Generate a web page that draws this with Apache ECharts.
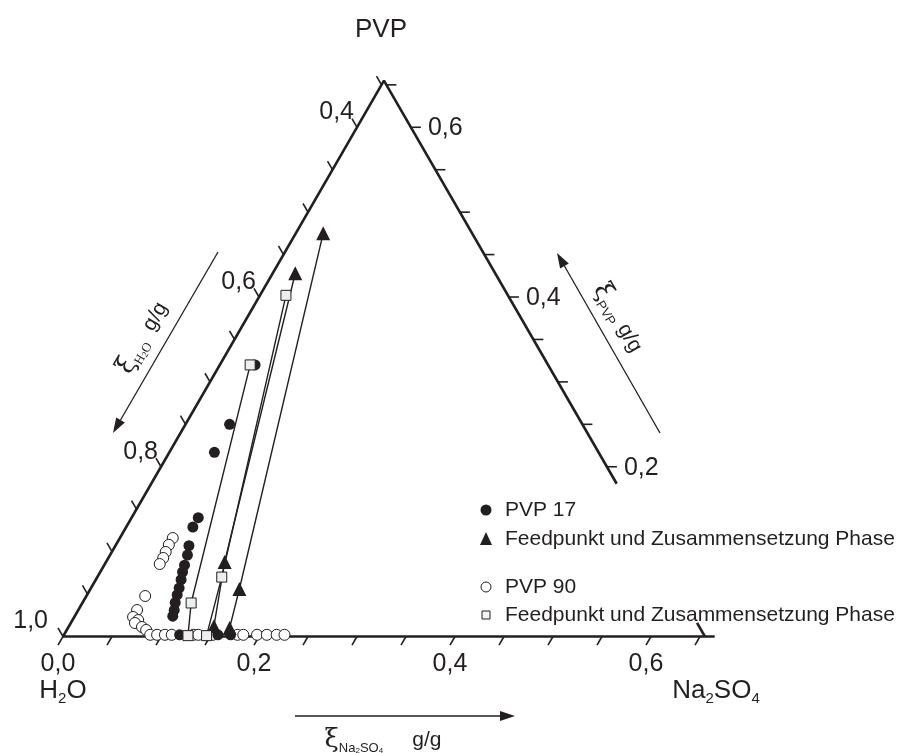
<!DOCTYPE html>
<html><head><meta charset="utf-8">
<script src="https://cdn.jsdelivr.net/npm/echarts@6/dist/echarts.min.js"></script>
<style>html,body{margin:0;padding:0;background:#fff}#c{width:903px;height:753px}</style>
</head><body><div id="c"></div>
<script>
// Compositions as [Na2SO4 mass fraction, PVP mass fraction]; H2O = 1 - both
const pvp17Points = [
  [0.045,0.250],[0.046,0.217],[0.068,0.140],[0.068,0.129],[0.075,0.107],[0.079,0.096],
  [0.082,0.084],[0.084,0.076],[0.087,0.067],[0.090,0.057],[0.092,0.049],[0.0945,0.040],
  [0.098,0.031],[0.100,0.024],[0.036,0.320],
  [0.118,0.002],[0.157,0.002],[0.170,0.002]
];
const pvp90Points = [
  [0.054,0.116],[0.054,0.108],[0.055,0.0996],[0.056,0.0925],[0.056,0.0854],[0.060,0.0477],
  [0.060,0.0312],[0.060,0.023],[0.067,0.0194],[0.0655,0.0159],[0.075,0.0112],[0.081,0.0077],
  [0.088,0.002],[0.095,0.002],[0.103,0.002],[0.110,0.002],[0.132,0.002],[0.137,0.002],
  [0.152,0.002],[0.177,0.002],[0.183,0.002],[0.197,0.002],[0.207,0.002],[0.217,0.002],[0.225,0.002]
];
// tie lines: bottom phase, feed point, top phase
const tieSquareA = [[0.127,0.001],[0.111,0.0395],[0.031,0.320]];
const tieSquareB = [[0.146,0.001],[0.127,0.070],[0.0265,0.402]];
const tieTriangleA = [[0.148,0.012],[0.121,0.0878],[0.023,0.428]];
const tieTriangleB = [[0.165,0.010],[0.152,0.056],[0.028,0.475]];
// diagram frame
const frameMain = [[0.665,0],[0,0],[0,0.655],[0.475,0.18]];
const frameStub = [[0.639,0.016],[0.655,0]];
const RIGHT_EDGE_H2O = 0.345;
// axis ticks and labels
const naTicks = [0,0.05,0.10,0.15,0.20,0.25,0.30,0.35,0.40,0.45,0.50,0.55,0.60,0.65];
const naTickLabels = [0,0.2,0.4,0.6];
const h2oTicks = [1.0,0.95,0.90,0.85,0.80,0.75,0.70,0.65,0.60,0.55,0.50,0.45,0.40,0.35];
const h2oTickLabels = [1.0,0.8,0.6,0.4];
const pvpTicks = [0.20,0.25,0.30,0.35,0.40,0.45,0.50,0.55,0.60,0.65];
const pvpTickLabels = [0.2,0.4,0.6];

const INK = '#231f20';
const S3 = Math.sqrt(3) / 2;
function tern(p) { return [p[0] + p[1] / 2, p[1] * S3]; }
function fmt(v) { return v.toFixed(1).replace('.', ','); }

const chart = echarts.init(document.getElementById('c'), null, {renderer: 'canvas'});

function tickSeries(points, dx, dy) {
  return {
    type: 'custom', coordinateSystem: 'cartesian2d', silent: true, clip: false, z: 3,
    data: points.map(tern),
    renderItem: function (params, api) {
      const p = api.coord([api.value(0), api.value(1)]);
      return {type: 'line', shape: {x1: p[0], y1: p[1], x2: p[0] + dx * 10, y2: p[1] + dy * 10},
        style: {stroke: INK, lineWidth: 1.6}};
    }
  };
}
function labelSeries(points, texts, place) {
  return {
    type: 'custom', coordinateSystem: 'cartesian2d', silent: true, clip: false, z: 3,
    data: points.map(tern),
    renderItem: function (params, api) {
      const p = api.coord([api.value(0), api.value(1)]);
      const o = place(p, params.dataIndex);
      return {type: 'text', x: o.x, y: o.y,
        style: {text: texts[params.dataIndex], fontSize: 25, fontFamily: 'Liberation Sans, Arial, sans-serif',
          fill: INK, align: o.align, verticalAlign: 'middle'}};
    }
  };
}
function lineSeries(points, width) {
  return {type: 'line', data: points.map(tern), symbol: 'none', clip: false, silent: true, z: 4,
    lineStyle: {color: INK, width: width, opacity: 1}, animation: false};
}

const series = [
  lineSeries(frameMain, 2.6),
  lineSeries(frameStub, 2.6),
  lineSeries(tieSquareA, 1.4),
  lineSeries(tieSquareB, 1.4),
  lineSeries(tieTriangleA, 1.4),
  lineSeries(tieTriangleB, 1.4),
  {type: 'scatter', name: 'PVP 90', data: pvp90Points.map(tern), symbol: 'circle', symbolSize: 11, clip: false, z: 5,
    itemStyle: {color: '#ffffff', borderColor: INK, borderWidth: 1, opacity: 1}},
  {type: 'scatter', name: 'PVP 17', data: pvp17Points.map(tern), symbol: 'circle', symbolSize: 11, clip: false, z: 6,
    itemStyle: {color: INK, opacity: 1}},
  {type: 'scatter', name: 'Feed PVP 17', data: tieTriangleA.concat(tieTriangleB).map(tern), symbol: 'triangle', symbolSize: 14, clip: false, z: 7,
    itemStyle: {color: INK, opacity: 1}},
  {type: 'scatter', name: 'Feed PVP 90', data: tieSquareA.concat(tieSquareB).map(tern), symbol: 'rect', symbolSize: 10, clip: false, z: 7,
    itemStyle: {color: '#eeeeee', borderColor: INK, borderWidth: 1, opacity: 1}},
  tickSeries(naTicks.map(v => [v, 0]), -0.5, S3),
  tickSeries(h2oTicks.map(v => [0, 1 - v]), -0.5, -S3),
  tickSeries(pvpTicks.map(v => [1 - RIGHT_EDGE_H2O - v, v]), 1, 0),
  labelSeries(naTickLabels.map(v => [v, 0]), naTickLabels.map(fmt),
    p => ({x: p[0] - 5, y: p[1] + 28, align: 'center'})),
  labelSeries(h2oTickLabels.map(v => [0, 1 - v]), h2oTickLabels.map(fmt),
    (p, i) => ({x: p[0] - (h2oTickLabels[i] === 1 ? 15 : 3), y: p[1] - 15, align: 'right'})),
  labelSeries(pvpTickLabels.map(v => [1 - RIGHT_EDGE_H2O - v, v]), pvpTickLabels.map(fmt),
    p => ({x: p[0] + 17, y: p[1] + 1, align: 'left'}))
];

function arrow(x1, y1, x2, y2) {
  const L = Math.hypot(x2 - x1, y2 - y1), ux = (x2 - x1) / L, uy = (y2 - y1) / L;
  const hl = 15, hw = 5;
  const bx = x2 - ux * hl, by = y2 - uy * hl;
  return [
    {type: 'line', shape: {x1: x1, y1: y1, x2: bx, y2: by}, style: {stroke: INK, lineWidth: 1.3}, silent: true},
    {type: 'polygon', shape: {points: [[x2, y2], [bx - uy * hw, by + ux * hw], [bx + uy * hw, by - ux * hw]]},
      style: {fill: INK}, silent: true}
  ];
}

const SANS = 'Liberation Sans, Arial, sans-serif';
const big = {fontSize: 26, fontFamily: SANS, fill: INK, lineHeight: 30};
const bigSub = {fontSize: 15, fontFamily: SANS, fill: INK, lineHeight: 12, verticalAlign: 'bottom'};
const legendText = (x, y, t) => ({type: 'text', x: x, y: y,
  style: {text: t, fontSize: 21, fontFamily: SANS, fill: INK, align: 'left', verticalAlign: 'middle'}});

const xiRich = {
  xi: {fontSize: 26, fontFamily: 'DejaVu Serif, serif', fill: INK, lineHeight: 30},
  s: {fontSize: 13, fontFamily: 'Liberation Serif, serif', fill: INK, lineHeight: 14, verticalAlign: 'bottom'},
  s2: {fontSize: 9, fontFamily: 'Liberation Serif, serif', fill: INK, lineHeight: 8, verticalAlign: 'bottom'},
  ss: {fontSize: 13, fontFamily: SANS, fill: INK, lineHeight: 14, verticalAlign: 'bottom'},
  ss2: {fontSize: 8, fontFamily: SANS, fill: INK, lineHeight: 8, verticalAlign: 'bottom'},
  g: {fontSize: 21, fontFamily: SANS, fill: INK, lineHeight: 30}
};

const graphic = [
  {type: 'text', x: 381, y: 30, style: {text: 'PVP', fontSize: 26, fontFamily: SANS, fill: INK, align: 'center', verticalAlign: 'middle'}},
  {type: 'text', x: 63, y: 691, style: {text: '{a|H}{b|2}{a|O}', rich: {a: big, b: bigSub}, align: 'center', verticalAlign: 'middle'}},
  {type: 'text', x: 716, y: 691, style: {text: '{a|Na}{b|2}{a|SO}{b|4}', rich: {a: big, b: bigSub}, align: 'center', verticalAlign: 'middle'}},
  ...arrow(218, 252, 113, 433),
  ...arrow(660, 433, 557, 253),
  ...arrow(295, 716, 515, 716),
  {type: 'text', x: 143, y: 338, rotation: Math.PI / 3,
    style: {text: '{xi|ξ}{s|H}{s2|2}{s|O}{g|  g/g}', rich: xiRich, align: 'center', verticalAlign: 'middle'}},
  {type: 'text', x: 618, y: 318, rotation: -Math.PI / 3,
    style: {text: '{xi|ξ}{ss|PVP}{g| g/g}', rich: xiRich, align: 'center', verticalAlign: 'middle'}},
  {type: 'text', x: 383, y: 740,
    style: {text: '{xi|ξ}{ss|Na}{ss2|2}{ss|SO}{ss2|4}{g|     g/g}', rich: xiRich, align: 'center', verticalAlign: 'middle'}},
  // legend
  {type: 'circle', shape: {cx: 486, cy: 510, r: 5.5}, style: {fill: INK}},
  legendText(505, 510, 'PVP 17'),
  {type: 'polygon', shape: {points: [[486, 532], [480, 545], [492, 545]]}, style: {fill: INK}},
  legendText(505, 539, 'Feedpunkt und Zusammensetzung Phase'),
  {type: 'circle', shape: {cx: 486, cy: 587, r: 5}, style: {fill: '#fff', stroke: INK, lineWidth: 1}},
  legendText(505, 587, 'PVP 90'),
  {type: 'rect', shape: {x: 482, y: 611, width: 8, height: 8}, style: {fill: '#f4f4f4', stroke: INK, lineWidth: 1}},
  legendText(505, 615, 'Feedpunkt und Zusammensetzung Phase')
];

chart.setOption({
  animation: false,
  backgroundColor: '#ffffff',
  grid: {left: 63, top: 48.5, width: 833, height: 588, containLabel: false, outerBoundsMode: 'none'},
  xAxis: {type: 'value', min: 0, max: 0.85, show: false},
  yAxis: {type: 'value', min: 0, max: 0.6, show: false},
  series: series,
  graphic: graphic
});
</script></body></html>
